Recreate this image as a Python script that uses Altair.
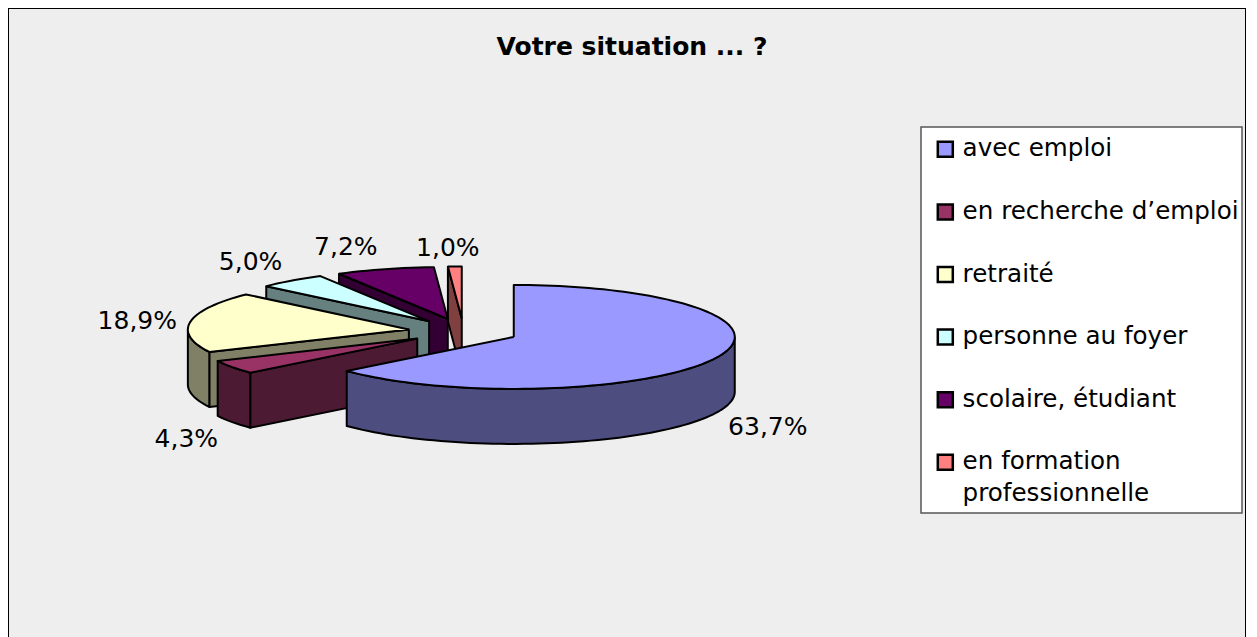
import math
import altair as alt
import pandas as pd

categories = ["avec emploi", "en recherche d’emploi", "retraité", "personne au foyer",
              "scolaire, étudiant", "en formation|professionnelle"]
shares = [63.7, 4.3, 18.9, 5.0, 7.2, 1.0]
top_colors = ["#9999ff", "#993366", "#ffffcc", "#ccffff", "#660066", "#ff8080"]
side_colors = ["#4d4d80", "#4d1a33", "#808066", "#668080", "#330033", "#804040"]
label_dx = [53, -46, -53, -41, -39, -7]
label_dy = [68, 72, -1, -19, -22, -19]

W, H = 1238, 640
CX, CY = 455.5, 323.5      # pie centre in the plot
A, B, DEPTH = 221, 52, 55  # ellipse radii and extrusion
EXPLODE = 0.25


def pt(ax, ay, deg, drop=0):
    t = math.radians(deg)
    return (ax + A * math.sin(t), ay - B * math.cos(t) + drop)


def arc(ax, ay, a0, a1, drop=0, step=2):
    n = max(2, int(abs(a1 - a0) / step) + 1)
    return [pt(ax, ay, a0 + (a1 - a0) * i / n, drop) for i in range(n + 1)]


total = sum(shares)
xs = alt.X("x:Q", scale=alt.Scale(domain=[0, W], range=[0, W]), axis=None)
ys = alt.Y("y:Q", scale=alt.Scale(domain=[0, H], range=[0, H]), axis=None)
fill_enc = alt.Fill(
    "slice:N",
    scale=alt.Scale(domain=categories, range=top_colors),
    sort=categories,
    legend=alt.Legend(
        orient="none", legendX=925, legendY=129, title=None,
        symbolType="square", symbolSize=225, symbolStrokeColor="black",
        symbolStrokeWidth=2.5, symbolOpacity=1, labelFont="DejaVu Sans",
        labelFontSize=24.6, labelColor="black", labelLimit=400, symbolOffset=0,
        padding=0, rowPadding=36.6,
        labelOffset=5, labelExpr="split(datum.label,'|')",
    ),
)


def face(points, color=None, name=None):
    closed = points + [points[0]]
    df = pd.DataFrame({"x": [p[0] for p in closed], "y": [p[1] for p in closed],
                       "i": range(len(closed))})
    kw = dict(stroke="black", strokeWidth=2, strokeJoin="round", clip=False)
    if color:
        return alt.Chart(df).mark_line(fill=color, **kw).encode(x=xs, y=ys, order="i:Q")
    df["slice"] = name
    return alt.Chart(df).mark_line(**kw).encode(x=xs, y=ys, order="i:Q", fill=fill_enc)


spans = []
start = 0.0
for s in shares:
    end = start + 360 * s / total
    spans.append((start, end))
    start = end

layers = []
labels = []
for idx in reversed(range(len(shares))):
    a0, a1 = spans[idx]
    mid = (a0 + a1) / 2
    t = math.radians(mid)
    ax = CX + EXPLODE * A * math.sin(t)
    ay = CY - EXPLODE * B * math.cos(t)
    # radial wall on the start edge, for slices whose start edge faces the viewer
    if a0 > 180:
        p0 = pt(ax, ay, a0)
        p0b = pt(ax, ay, a0, DEPTH)
        layers.append(face([p0, (ax, ay), (ax, ay + DEPTH), p0b], side_colors[idx]))
    # outer wall, front half only
    lo, hi = max(a0, 90), min(a1, 270)
    if lo < hi:
        layers.append(face(arc(ax, ay, lo, hi) + arc(ax, ay, hi, lo, DEPTH), side_colors[idx]))
    layers.append(face([(ax, ay)] + arc(ax, ay, a0, a1), name=categories[idx]))
    ox, oy = pt(ax, ay, mid)
    labels.append({"x": ox + label_dx[idx], "y": oy + label_dy[idx],
                   "label": f"{shares[idx]:.1f}%".replace(".", ",")})

text = alt.Chart(pd.DataFrame(labels)).mark_text(
    font="DejaVu Sans", fontSize=25, color="black", align="center", baseline="middle"
).encode(x=xs, y=ys, text="label:N")

legend_box = alt.Chart(pd.DataFrame({"box": [0]})).mark_rect(
    fill="white", stroke="#555555", strokeWidth=1.5
).encode(x=alt.value(913), x2=alt.value(1234), y=alt.value(119), y2=alt.value(505))

chart = (
    alt.layer(legend_box, *layers, text)
    .properties(
        width=W, height=H, padding=0,
        autosize=alt.AutoSizeParams(type="none"),
        title=alt.TitleParams(
            "Votre situation ... ?", font="DejaVu Sans", fontSize=25, fontWeight="bold",
            color="black", anchor="middle", dy=52, dx=5, offset=0,
        ),
    )
    .configure(
        view=alt.ViewConfig(fill="#eeeeee", stroke="black", strokeWidth=2),
        style={"guide-label": {"lineHeight": 32}},
    )
)

chart.save("out.html", embed_options={"renderer": "svg", "actions": False})
